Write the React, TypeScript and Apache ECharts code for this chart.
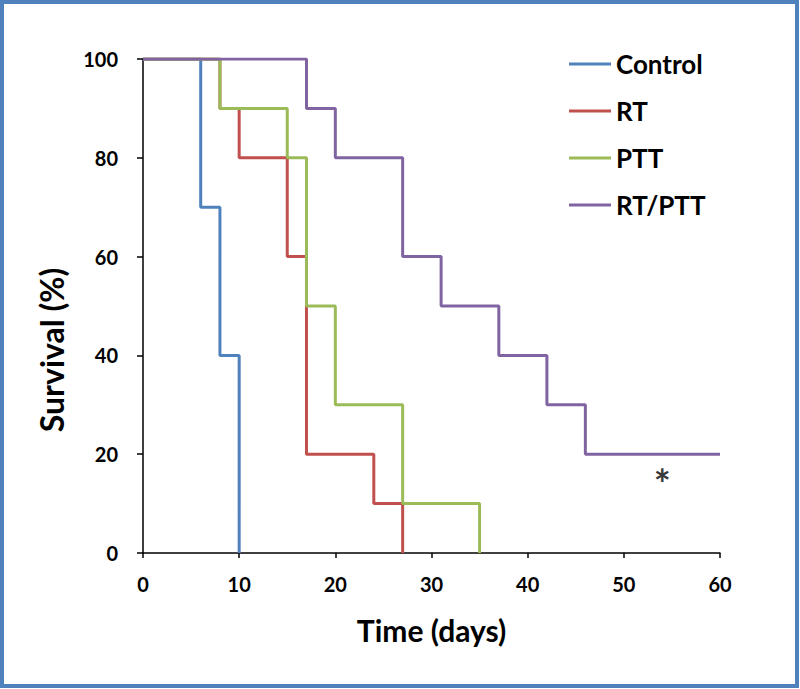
import React, { useEffect, useRef } from "react";
import * as echarts from "echarts";

const seriesNames = ["Control", "RT", "PTT", "RT/PTT"];
const seriesColors = ["#4F81BD", "#C0504D", "#9BBB59", "#8064A2"];

const controlTimes = [0, 6, 8, 10];
const controlSurvival = [100, 70, 40, 0];
const rtTimes = [0, 8, 10, 15, 17, 24, 27];
const rtSurvival = [100, 90, 80, 60, 20, 10, 0];
const pttTimes = [0, 8, 15, 17, 20, 27, 35];
const pttSurvival = [100, 90, 80, 50, 30, 10, 0];
const comboTimes = [0, 17, 20, 27, 31, 37, 42, 46, 60];
const comboSurvival = [100, 90, 80, 60, 50, 40, 30, 20, 20];

const asteriskPoint = [54, 14];
const xTicks = [0, 10, 20, 30, 40, 50, 60];
const yTicks = [0, 20, 40, 60, 80, 100];

const FONT = "Lato, 'Open Sans', sans-serif";

export default function App() {
  const ref = useRef<HTMLDivElement>(null);
  useEffect(() => {
    if (!ref.current) return;
    const chart = echarts.init(ref.current, undefined, { renderer: "svg" });
    const groups = [
      [controlTimes, controlSurvival],
      [rtTimes, rtSurvival],
      [pttTimes, pttSurvival],
      [comboTimes, comboSurvival],
    ];
    const lineSeries = groups.map((g, i) => ({
      name: seriesNames[i],
      type: "line",
      step: "end",
      showSymbol: false,
      symbol: "none",
      data: g[0].map((t: number, j: number) => [t, g[1][j]]),
      lineStyle: { color: seriesColors[i], width: 3 },
      itemStyle: { color: seriesColors[i] },
      z: 2 + i,
    }));
    chart.setOption({
      animation: false,
      textStyle: { fontFamily: FONT },
      grid: { left: 143, right: 80, top: 59, bottom: 136, containLabel: false },
      legend: {
        orient: "vertical",
        top: 44,
        left: 564,
        icon: "rect",
        itemWidth: 42,
        itemHeight: 3,
        itemGap: 17,
        data: seriesNames,
        textStyle: {
          fontFamily: FONT,
          fontSize: 26,
          fontWeight: "bold",
          color: "#000",
          lineHeight: 30,
        },
      },
      xAxis: {
        type: "value",
        min: 0,
        max: 60,
        interval: 10,
        name: "Time (days)",
        nameLocation: "middle",
        nameGap: 62,
        nameTextStyle: { fontFamily: FONT, fontSize: 30, fontWeight: "bold", color: "#000" },
        axisLine: { show: true, onZero: false, lineStyle: { color: "#000", width: 1.5 } },
        axisTick: { show: true, inside: false, length: 5, lineStyle: { color: "#000", width: 1.5 }, customValues: xTicks },
        axisLabel: { margin: 21, fontFamily: FONT, fontSize: 20, fontWeight: "bold", color: "#000", customValues: xTicks },
        splitLine: { show: false },
      },
      yAxis: {
        type: "value",
        min: 0,
        max: 100,
        interval: 20,
        axisLine: { show: true, onZero: false, lineStyle: { color: "#000", width: 1.5 } },
        axisTick: { show: true, inside: false, length: 6, lineStyle: { color: "#000", width: 1.5 }, customValues: yTicks },
        axisLabel: { margin: 25, fontFamily: FONT, fontSize: 20, fontWeight: "bold", color: "#000", customValues: yTicks },
        splitLine: { show: false },
      },
      graphic: [
        {
          type: "rect",
          shape: { x: 2, y: 2, width: 795, height: 684 },
          style: { fill: "none", stroke: "#4F81BD", lineWidth: 4 },
          silent: true,
        },
        {
          type: "text",
          x: 51,
          y: 350,
          rotation: Math.PI / 2,
          style: {
            text: "Survival (%)",
            fontFamily: FONT,
            fontSize: 32,
            fontWeight: "bold",
            fill: "#000",
            align: "center",
            verticalAlign: "middle",
          },
          silent: true,
        },
      ],
      series: [
        ...lineSeries,
        {
          type: "scatter",
          symbolSize: 0,
          data: [asteriskPoint],
          label: {
            show: true,
            position: "inside",
            formatter: "*",
            fontFamily: FONT,
            fontSize: 40,
            fontWeight: "bold",
            color: "#000",
          },
          z: 10,
          silent: true,
        },
      ],
    });
    return () => chart.dispose();
  }, []);
  return (
    <div
      ref={ref}
      style={{ position: "fixed", left: 0, top: 0, width: 800, height: 689, background: "#fff" }}
    />
  );
}
